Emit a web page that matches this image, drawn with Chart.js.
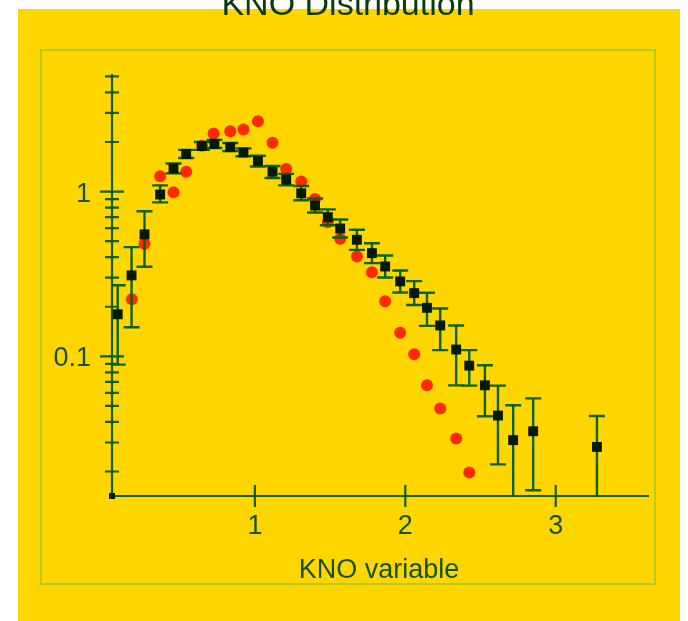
<!DOCTYPE html>
<html>
<head>
<meta charset="utf-8">
<script src="https://cdn.jsdelivr.net/npm/chart.js@4.4.0/dist/chart.umd.min.js"></script>
<style>
  html, body { margin: 0; padding: 0; background: #fff; }
  #panel { position: absolute; left: 18px; top: 9px; width: 662px; height: 612px; background: #ffd600; }
  #wrap { position: absolute; left: 0; top: 0; width: 688px; height: 621px; }
</style>
</head>
<body>
<div id="panel"></div>
<div id="wrap"><canvas id="knoChart" width="688" height="621"></canvas></div>
<script>
// measured KNO distribution (black squares with error bars)
const knoX = [0.088, 0.180, 0.266, 0.370, 0.459, 0.543, 0.648, 0.731, 0.836, 0.924, 1.020, 1.117, 1.208, 1.308, 1.400, 1.485,
  1.567, 1.678, 1.778, 1.866, 1.966, 2.059, 2.144, 2.232, 2.338, 2.425, 2.529, 2.616, 2.717, 2.850, 3.274];
const measured = [0.18, 0.31, 0.55, 0.96, 1.38, 1.69, 1.89, 1.95, 1.86, 1.73, 1.53, 1.32, 1.18, 0.976, 0.823, 0.699,
  0.597, 0.51, 0.423, 0.351, 0.285, 0.242, 0.197, 0.154, 0.110, 0.0878, 0.0667, 0.0437, 0.031, 0.0351, 0.0282];
const errLow = [0.089, 0.15, 0.35, 0.86, 1.29, 1.60, 1.79, 1.84, 1.76, 1.64, 1.42, 1.21, 1.09, 0.885, 0.746, 0.625,
  0.526, 0.443, 0.368, 0.301, 0.244, 0.205, 0.153, 0.109, 0.0666, 0.0664, 0.0433, 0.0221, 0.001, 0.0154, 0.001];
const errHigh = [0.27, 0.46, 0.76, 1.09, 1.48, 1.79, 2.00, 2.06, 1.97, 1.83, 1.65, 1.43, 1.28, 1.08, 0.908, 0.78,
  0.677, 0.587, 0.486, 0.409, 0.332, 0.286, 0.243, 0.195, 0.154, 0.109, 0.0882, 0.0664, 0.0505, 0.0556, 0.0434];

// model (red dots)
const modelX = [0.182, 0.266, 0.370, 0.459, 0.543, 0.648, 0.725, 0.836, 0.924, 1.020, 1.117, 1.208, 1.308, 1.400, 1.485,
  1.567, 1.678, 1.778, 1.866, 1.966, 2.059, 2.144, 2.232, 2.338, 2.425];
const modelY = [0.222, 0.482, 1.24, 0.99, 1.32, 1.9, 2.25, 2.32, 2.38, 2.67, 1.98, 1.37, 1.15, 0.903, 0.652,
  0.517, 0.404, 0.324, 0.216, 0.139, 0.103, 0.0667, 0.0482, 0.0317, 0.0197];

// axes
const xTicks = [1, 2, 3];
const yTicks = [0.02, 0.03, 0.04, 0.05, 0.06, 0.07, 0.08, 0.09, 0.1, 0.2, 0.3, 0.4, 0.5, 0.6, 0.7, 0.8, 0.9, 1, 2, 3, 4, 5];
const yMajor = [0.1, 1];
const yLabels = ["0.1", "1"];

const GREEN = "#0f5f0f";
const TEXT = "#145214";

function drawErrors(chart) {
  const ctx = chart.ctx, x = chart.scales.x, y = chart.scales.y, a = chart.chartArea;
  ctx.save();
  ctx.beginPath();
  ctx.rect(a.left, a.top, a.right - a.left, a.bottom - a.top + 1);
  ctx.clip();
  ctx.strokeStyle = "#0b620b";
  ctx.lineWidth = 2.4;
  knoX.forEach((v, i) => {
    const px = x.getPixelForValue(v);
    const lo = y.getPixelForValue(errLow[i]);
    const hi = y.getPixelForValue(errHigh[i]);
    ctx.beginPath();
    ctx.moveTo(px, lo); ctx.lineTo(px, hi);
    ctx.moveTo(px - 8, lo); ctx.lineTo(px + 8, lo);
    ctx.moveTo(px - 8, hi); ctx.lineTo(px + 8, hi);
    ctx.stroke();
  });
  ctx.restore();
}

const framePlugin = {
  id: "frame",
  beforeDraw(chart) {
    const ctx = chart.ctx;
    ctx.save();
    ctx.strokeStyle = "#9cc82a";
    ctx.lineWidth = 1.5;
    ctx.strokeRect(41, 50, 614, 534);
    ctx.restore();
  },
  beforeDatasetsDraw(chart) {
    const ctx = chart.ctx, x = chart.scales.x, y = chart.scales.y, a = chart.chartArea;
    ctx.save();
    ctx.strokeStyle = GREEN;
    ctx.lineWidth = 2.2;
    ctx.beginPath();
    ctx.moveTo(a.left, a.top - 1); ctx.lineTo(a.left, a.bottom);
    ctx.lineTo(a.right, a.bottom);
    yTicks.forEach(v => {
      const py = y.getPixelForValue(v);
      const len = yMajor.includes(v) ? 12 : 7;
      ctx.moveTo(a.left - len, py); ctx.lineTo(a.left + len, py);
    });
    xTicks.forEach(v => {
      const px = x.getPixelForValue(v);
      ctx.moveTo(px, a.bottom - 11); ctx.lineTo(px, a.bottom + 11);
    });
    ctx.stroke();
    ctx.fillStyle = "#021a02";
    ctx.fillRect(a.left - 3, a.bottom - 3, 6, 6);

    ctx.fillStyle = TEXT;
    ctx.font = "27px 'Liberation Sans'";
    ctx.textBaseline = "alphabetic";
    ctx.textAlign = "center";
    xTicks.forEach(v => ctx.fillText(String(v), x.getPixelForValue(v), a.bottom + 38));
    ctx.textAlign = "right";
    yMajor.forEach((v, i) => ctx.fillText(yLabels[i], a.left - 21, y.getPixelForValue(v) + 10));
    ctx.textAlign = "center";
    ctx.fillText("KNO variable", 379, 578);
    ctx.fillStyle = "#0b3b0b";
    ctx.font = "34px 'Liberation Sans'";
    ctx.fillText("KNO Distribution", 348, 15);
    ctx.restore();
  },
  beforeDatasetDraw(chart, args) {
    if (args.index === 0) drawErrors(chart);
  }
};

new Chart(document.getElementById("knoChart"), {
  type: "scatter",
  data: {
    datasets: [{
      label: "data",
      data: knoX.map((v, i) => ({ x: v, y: measured[i] })),
      pointStyle: "rect",
      pointRadius: 7,
      backgroundColor: "#041a04",
      borderWidth: 0
    }, {
      label: "model",
      data: modelX.map((v, i) => ({ x: v, y: modelY[i] })),
      pointStyle: "circle",
      pointRadius: 6,
      backgroundColor: "#ff2a00",
      borderWidth: 0
    }]
  },
  options: {
    responsive: false,
    animation: false,
    layout: { padding: { left: 112, right: 39, top: 75, bottom: 125 } },
    plugins: { legend: { display: false }, tooltip: { enabled: false } },
    scales: {
      x: { type: "linear", min: 0.05, max: 3.62, display: false },
      y: { type: "logarithmic", min: 0.0142, max: 5.1, display: false }
    }
  },
  plugins: [framePlugin]
});
</script>
</body>
</html>
